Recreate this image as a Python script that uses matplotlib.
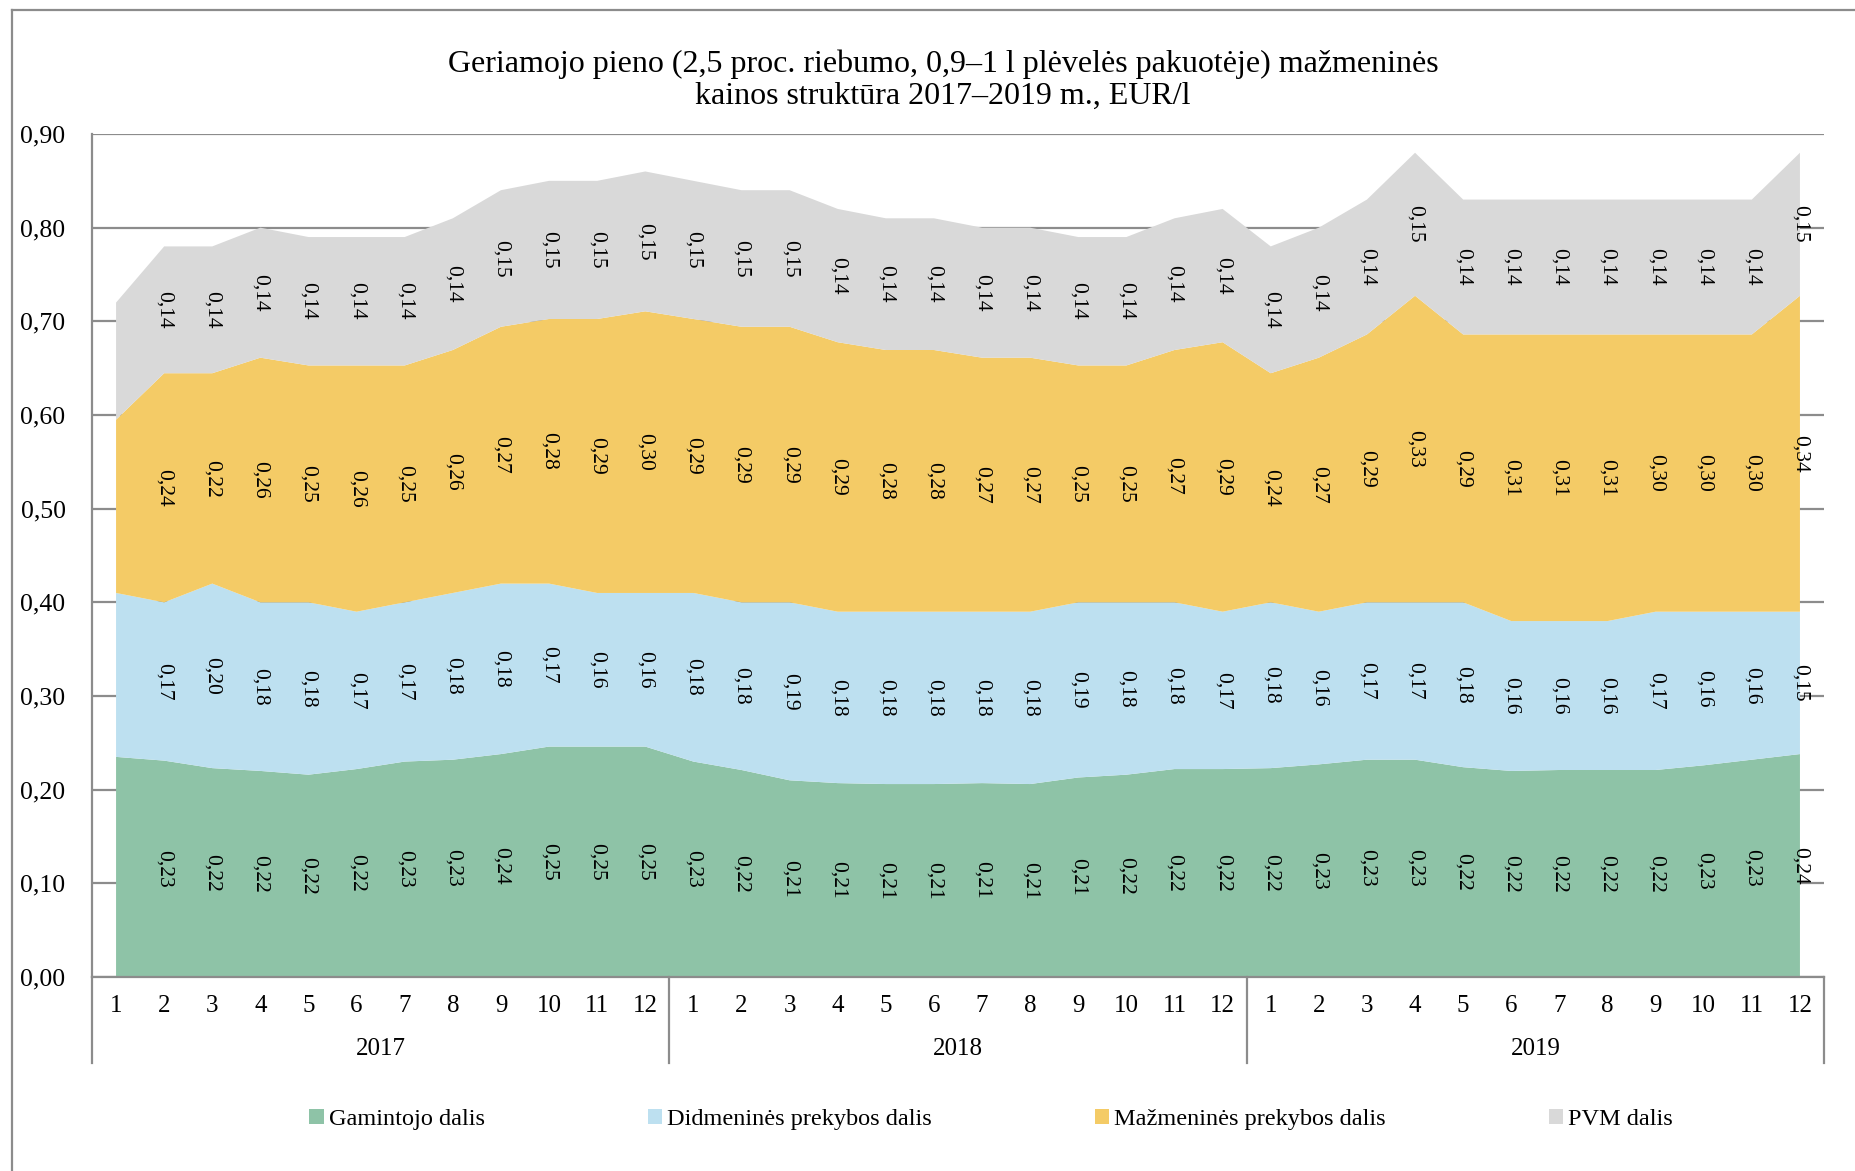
import matplotlib
matplotlib.use("Agg")
import matplotlib.pyplot as plt
from matplotlib.lines import Line2D
import numpy as np

plt.rcParams['font.family'] = ['Liberation Serif', 'DejaVu Serif']

# Duomenys, EUR/l (2017-2019, mėnesiai 1-12)
menesiai = list(range(1, 13)) * 3
metai = ['2017', '2018', '2019']

gamintojo = [0.235, 0.231, 0.223, 0.220, 0.216, 0.222, 0.230, 0.232, 0.238, 0.246, 0.246, 0.246,
             0.230, 0.221, 0.210, 0.207, 0.206, 0.206, 0.207, 0.206, 0.213, 0.216, 0.222, 0.222,
             0.223, 0.227, 0.232, 0.232, 0.224, 0.220, 0.221, 0.221, 0.221, 0.226, 0.232, 0.238]
didmenines = [0.175, 0.169, 0.197, 0.180, 0.184, 0.168, 0.170, 0.178, 0.182, 0.174, 0.164, 0.164,
              0.180, 0.179, 0.190, 0.183, 0.184, 0.184, 0.183, 0.184, 0.187, 0.184, 0.178, 0.168,
              0.177, 0.163, 0.168, 0.168, 0.176, 0.160, 0.159, 0.159, 0.169, 0.164, 0.158, 0.152]
mazmenines = [0.1850, 0.2446, 0.2246, 0.2612, 0.2529, 0.2629, 0.2529, 0.2594, 0.2742, 0.2825, 0.2925, 0.3007,
              0.2925, 0.2942, 0.2942, 0.2877, 0.2794, 0.2794, 0.2712, 0.2712, 0.2529, 0.2529, 0.2694, 0.2877,
              0.2446, 0.2712, 0.2860, 0.3273, 0.2860, 0.3060, 0.3060, 0.3060, 0.2960, 0.2960, 0.2960, 0.3373]
pvm = [0.1250, 0.1354, 0.1354, 0.1388, 0.1371, 0.1371, 0.1371, 0.1406, 0.1458, 0.1475, 0.1475, 0.1493,
       0.1475, 0.1458, 0.1458, 0.1423, 0.1406, 0.1406, 0.1388, 0.1388, 0.1371, 0.1371, 0.1406, 0.1423,
       0.1354, 0.1388, 0.1440, 0.1527, 0.1440, 0.1440, 0.1440, 0.1440, 0.1440, 0.1440, 0.1440, 0.1527]

serijos = ['Gamintojo dalis', 'Didmeninės prekybos dalis', 'Mažmeninės prekybos dalis', 'PVM dalis']
spalvos = ['#8EC3A7', '#BDE0F0', '#F4CB66', '#D9D9D9']

x = np.arange(1, len(menesiai) + 1)
duom = np.array([gamintojo, didmenines, mazmenines, pvm])

fig = plt.figure(figsize=(18.56, 11.71), dpi=100)
ax = fig.add_axes([92/1856, 1 - 977/1171, (1824-92)/1856, (977-134)/1171])

polys = ax.stackplot(x, duom, colors=spalvos, labels=serijos, linewidth=0, zorder=2)

# Reikšmių žymės (be pirmo taško, kaip originale)
apacia = np.zeros(len(x))
for k in range(len(duom)):
    for i in range(1, len(x)):
        ax.text(x[i], apacia[i] + duom[k][i] / 2, f"{duom[k][i]:.2f}".replace('.', ','),
                rotation=270, ha='center', va='center', fontsize=15.5, zorder=5, clip_on=False)
    apacia = apacia + duom[k]

ax.set_xlim(0.5, len(x) + 0.5)
ax.set_ylim(0, 0.9)
ax.set_yticks(np.arange(0, 0.91, 0.1))
ax.set_yticklabels([f"{v:.2f}".replace('.', ',') for v in np.arange(0, 0.91, 0.1)], fontsize=18.5)
ax.yaxis.grid(True, color='#8C8C8C', linewidth=1.6, zorder=0)
ax.set_axisbelow(True)
ax.tick_params(axis='y', length=0, pad=19)
ax.set_xticks(x)
ax.set_xticklabels([str(m) for m in menesiai], fontsize=18)
ax.tick_params(axis='x', length=0, pad=13)

for s in ['top', 'right']:
    ax.spines[s].set_visible(False)
for s in ['left', 'bottom']:
    ax.spines[s].set_color('#8C8C8C')
    ax.spines[s].set_linewidth(1.6)

# Metų skirtukai ir pavadinimai po ašimi
trans = ax.get_xaxis_transform()
for j in range(len(metai) + 1):
    xs = 0.5 + 12 * j
    ax.add_line(Line2D([xs, xs], [0, -0.102], transform=trans, color='#8C8C8C',
                       linewidth=1.6, clip_on=False))
for j, m in enumerate(metai):
    ax.text(6.5 + 12 * j, -0.086, m, transform=trans, ha='center', va='center', fontsize=18)

fig.text(0.508, 0.9317, "Geriamojo pieno (2,5 proc. riebumo, 0,9–1 l plėvelės pakuotėje) mažmeninės\n"
         "kainos struktūra 2017–2019 m., EUR/l", ha='center', va='center', fontsize=23, linespacing=1.15)

fig.legend(handles=polys, labels=serijos, loc='center', bbox_to_anchor=(0.534, 0.044), ncol=4,
           frameon=False, fontsize=17.5, handlelength=0.6, handleheight=0.6, handletextpad=0.2,
           columnspacing=6.7)

# Rėmelis
fig.add_artist(Line2D([12/1856, 12/1856], [0, 1 - 10/1171], transform=fig.transFigure,
                      color='#8C8C8C', linewidth=1.6))
fig.add_artist(Line2D([12/1856, 1], [1 - 10/1171, 1 - 10/1171], transform=fig.transFigure,
                      color='#8C8C8C', linewidth=1.6))

fig.savefig('out.png', dpi=100)
